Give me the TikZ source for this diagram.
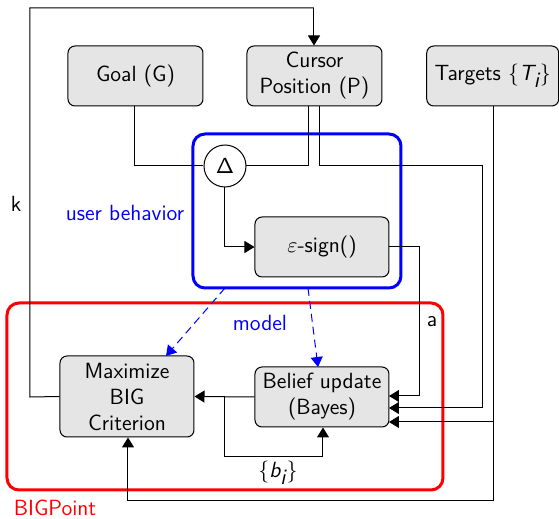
\documentclass[tikz,border=0pt]{standalone}
\usetikzlibrary{arrows.meta,calc}
\begin{document}
\begin{tikzpicture}[x=0.5pt,y=-0.5pt,
 txt/.style={font=\sffamily\fontsize{11}{13}\selectfont},
 box/.style={txt, draw, rounded corners=3.5pt, fill=gray!20, align=center, inner sep=0pt, line width=0.5pt, minimum width=67pt, minimum height=30pt},
 conn/.style={line width=0.5pt},
 tip/.style={conn, -{Triangle[length=5pt,width=6pt]}},
 lbl/.style={txt, inner sep=0pt},
 grp/.style={draw, rounded corners=6pt, line width=1.5pt, inner sep=0pt},
 modelarrow/.style={blue, dash pattern=on 4pt off 2.5pt, line width=0.5pt, -{Triangle[length=5pt,width=6pt]}}
]
\useasboundingbox (0,0) rectangle (559,519);
% groups
\node[grp, blue, minimum width=104pt, minimum height=77pt] (ub) at (297,211) {};
\node[grp, red, minimum width=218pt, minimum height=93.5pt] (bp) at (225,396.5) {};
% boxes
\node[box, minimum width=67.5pt] (goal) at (135.5,76) {Goal (G)};
\node[box, minimum width=67.5pt] (cursor) at (314.5,76) {Cursor\\Position (P)};
\node[box, minimum width=66pt] (targets) at (492.75,76) {Targets $\{\textsf{\itshape T}_{\textsf{\itshape i}}\}$};
\node[txt, draw, circle, fill=white, minimum size=21pt, inner sep=0pt, line width=0.5pt] (delta) at (225,166) {$\mathsf{\Delta}$};
\node[box] (eps) at (322,247) {$\varepsilon$-sign()};
\node[box] (belief) at (322,397) {Belief update\\(Bayes)};
\node[box, minimum height=40.5pt] (max) at (127,396.5) {Maximize\\BIG\\Criterion};
% labels
\node[lbl, blue] (lub) at (125,213) {user behavior};
\node[lbl, blue] (lmodel) at (260,323) {model};
\node[lbl, red] (lbp) at (55,508) {BIGPoint};
\node[lbl] (lk) at (16,204) {k};
\node[lbl] (la) at (432,322) {a};
\node[lbl] (lb) at (278,473) {$\{\textsf{\itshape b}_{\textsf{\itshape i}}\}$};
% coordinates
\coordinate (c1) at (135,166);
\coordinate (cL) at (309,166);
\coordinate (cR1) at (320,166);
\coordinate (cR2) at (483,166);
\coordinate (cR3) at (483,408);
\coordinate (bR1) at (389,408);
\coordinate (t1) at (494,501);
\coordinate (t2) at (494,422);
\coordinate (bR2) at (389,422);
\coordinate (m1) at (128,501);
\coordinate (d1) at (225,247);
\coordinate (e1) at (420,247);
\coordinate (e2) at (420,396);
\coordinate (bR0) at (389,396);
\coordinate (f1) at (225,397);
\coordinate (f2) at (225,457);
\coordinate (f3) at (323,457);
\coordinate (k1) at (30,397);
\coordinate (k2) at (30,8);
\coordinate (k3) at (314,8);
\coordinate (ub1) at (225,288);
\coordinate (ub2) at (308,288);
\coordinate (mx1) at (166,356);
\coordinate (bl1) at (318,367);
% connectors
\draw[conn] (goal.south -| c1) -- (c1) -- (delta.west);
\draw[conn] (delta.east) -- (cL) -- (cL |- cursor.south);
\draw[tip] (cR1 |- cursor.south) -- (cR1) -- (cR2) -- (cR3) -- (bR1);
\draw[conn] (targets.south -| t1) -- (t1) -- (m1);
\draw[tip] (m1) -- (m1 |- max.south);
\draw[tip] (t2) -- (bR2);
\draw[tip] (delta.south) -- (d1) -- (eps.west);
\draw[tip] (eps.east) -- (e1) -- (e2) -- (bR0);
\draw[tip] (belief.west) -- (max.east);
\draw[conn] (f1) -- (f2) -- (f3);
\draw[tip] (f3) -- (f3 |- belief.south);
\draw[conn] (max.west) -- (k1) -- (k2) -- (k3);
\draw[tip] (k3) -- (k3 |- cursor.north);
\draw[modelarrow] (ub1) -- (mx1);
\draw[modelarrow] (ub2) -- (bl1);
\end{tikzpicture}
\end{document}
